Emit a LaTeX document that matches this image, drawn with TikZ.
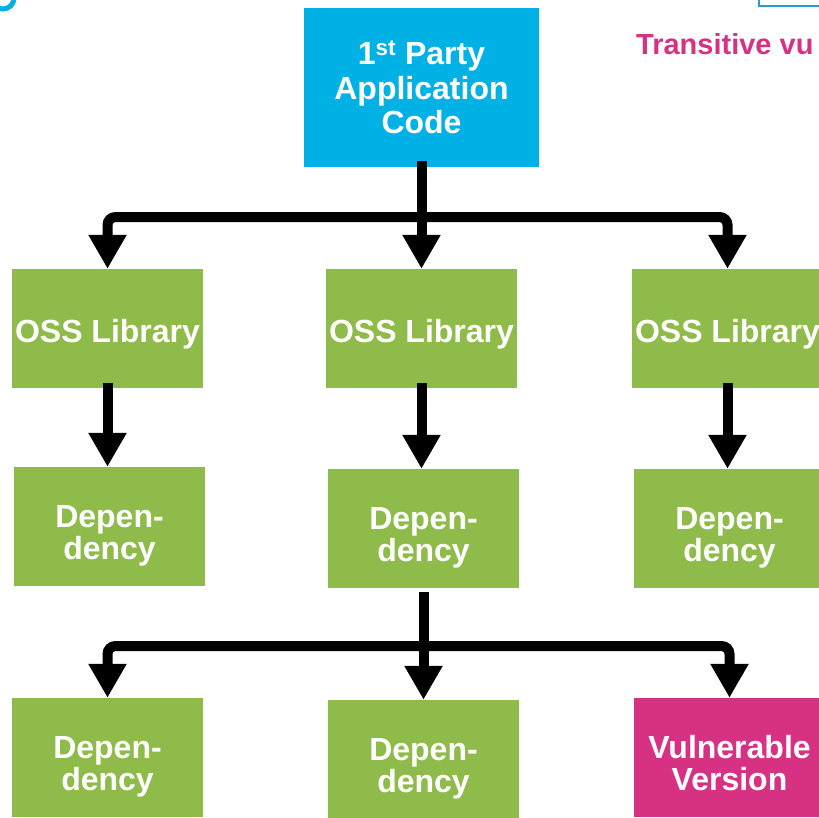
\documentclass[tikz,border=0pt]{standalone}
\usepackage{fontspec}
\setmainfont{Liberation Sans}
\usetikzlibrary{arrows.meta}

\definecolor{appblue}{HTML}{00B1E5}
\definecolor{ossgreen}{HTML}{8FBB4B}
\definecolor{vulnpink}{HTML}{D63183}
\definecolor{framblue}{HTML}{2E9BD0}

\begin{document}
\begin{tikzpicture}[x=1pt,y=-1pt,
    box/.style={minimum width=191pt,minimum height=119pt,inner sep=0pt,
      text=white,align=center,font=\fontsize{32}{32.5}\selectfont\bfseries},
    libbox/.style={box,fill=ossgreen,text height=27pt,text depth=0pt},
    depbox/.style={box,fill=ossgreen,text height=66pt,text depth=0pt},
    vulnbox/.style={depbox,fill=vulnpink},
    arr/.style={line width=10pt,-{Triangle[width=36pt,length=34pt]}}]
    \useasboundingbox (0,0) rectangle (819,817);
    \clip (0,0) rectangle (819,817);

    % bits of the slide round the diagram
    \draw[appblue,line width=5pt] (14,-2) arc (0:130:11);
    \draw[framblue,line width=2pt,fill=white] (759,-20) rectangle (840,6);
    \node[anchor=base west,inner sep=0pt,text=vulnpink,
          font=\fontsize{29}{32}\selectfont\bfseries] (title) at (636,54) {Transitive vu};

    \node[box,fill=appblue,minimum width=235pt,minimum height=159pt,
          font=\fontsize{32}{34.5}\selectfont\bfseries] (app) at (421.5,87.5)
        {1\textsuperscript{st} Party\\Application\\Code};

    \node[libbox] (lib1) at (107.5,328.5) {OSS Library};
    \node[libbox] (lib2) at (421.5,328.5) {OSS Library};
    \node[libbox] (lib3) at (727.5,328.5) {OSS Library};

    \node[depbox] (dep1) at (109.5,526.5) {Depen-\\dency};
    \node[depbox] (dep2) at (423.5,528.5) {Depen-\\dency};
    \node[depbox] (dep3) at (729.5,528.5) {Depen-\\dency};

    \node[depbox] (dep4) at (107.5,757.5) {Depen-\\dency};
    \node[depbox] (dep5) at (423.5,759.5) {Depen-\\dency};
    \node[vulnbox] (vuln) at (729.5,757.5) {Vulnerable\\Version};

    \coordinate (split1) at (421.5,217);
    \coordinate (split2) at (423.5,646);

    \draw[arr] ([yshift=6pt]app.south) -- (lib2.north);
    \draw[arr,rounded corners=8pt] (split1) -| (lib1.north);
    \draw[arr,rounded corners=8pt] (split1) -| (lib3.north);

    \draw[arr] ([yshift=5pt]lib1.south) -- (lib1.south |- dep1.north);
    \draw[arr] ([yshift=5pt]lib2.south) -- (lib2.south |- dep2.north);
    \draw[arr] ([yshift=5pt]lib3.south) -- (lib3.south |- dep3.north);

    \draw[arr] ([yshift=-4pt]dep2.south) -- (dep5.north);
    \draw[arr,rounded corners=8pt] (split2) -| (dep4.north);
    \draw[arr,rounded corners=8pt] (split2) -| (vuln.north);
\end{tikzpicture}
\end{document}
